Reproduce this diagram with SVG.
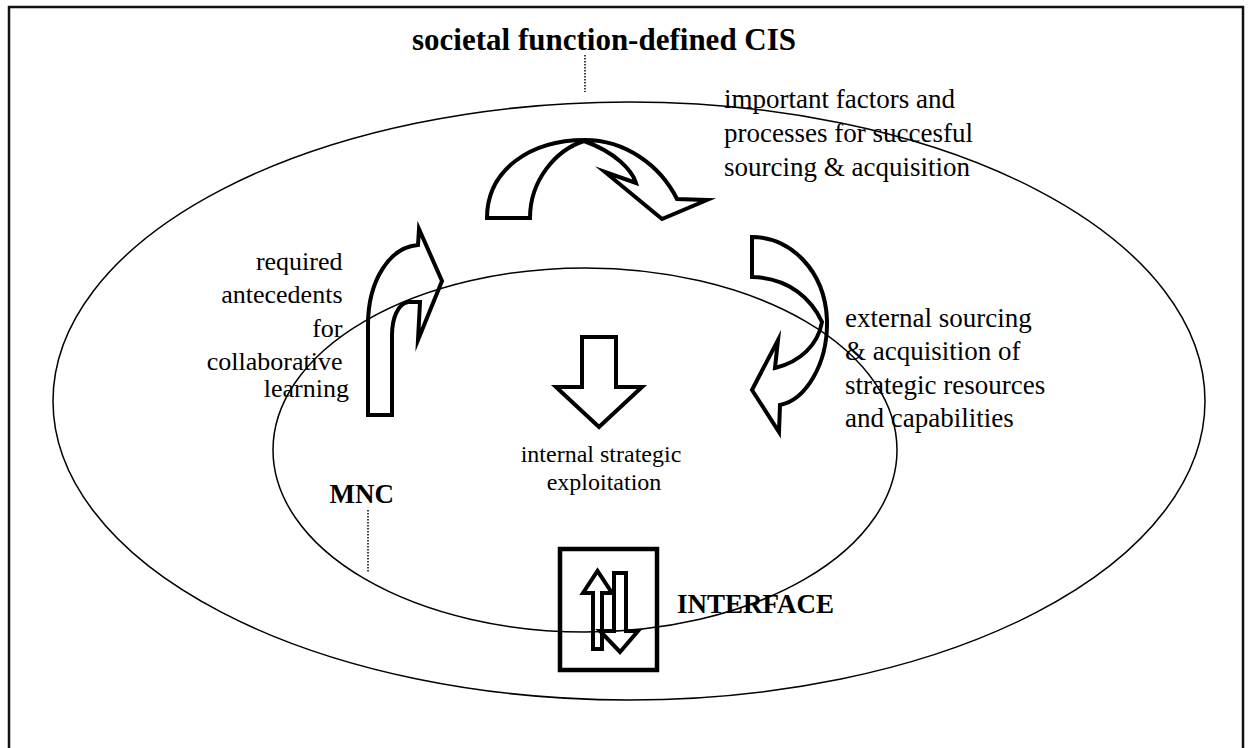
<svg xmlns="http://www.w3.org/2000/svg" width="1253" height="748" viewBox="0 0 1253 748">
  <style>
    .ring { fill: none; stroke: #000; stroke-width: 1.5; }
    .blk { fill: none; stroke: #000; stroke-width: 4; stroke-linejoin: miter; stroke-miterlimit: 10; }
    .lead { stroke: #000; stroke-width: 1.5; stroke-dasharray: 1.5 1.5; fill: none; }
    .frame { fill: none; stroke: #111; stroke-width: 2.5; }
    text { font-family: "Liberation Serif", "Times New Roman", serif; fill: #000; }
    .b { font-weight: bold; }
    .t26 { font-size: 26px; }
    .t27 { font-size: 27px; }
    .t24 { font-size: 24px; }
  </style>

  <rect width="1253" height="748" fill="#fff"/>
  <path class="frame" d="M9,760 V7 H1243 V760"/>

  <!-- systems -->
  <g id="cis">
    <ellipse class="ring" cx="629" cy="401" rx="576" ry="299"/>
    <text class="b" x="412" y="50" font-size="31">societal function-defined CIS</text>
  </g>
  <g id="mnc">
    <ellipse class="ring" cx="585" cy="450" rx="312" ry="182"/>
    <text class="b" x="394" y="503" font-size="27" text-anchor="end">MNC</text>
  </g>

  <!-- leaders -->
  <g id="connectors">
    <line class="lead" x1="585" y1="55" x2="585" y2="92"/>
    <line class="lead" x1="368" y1="510" x2="368" y2="573"/>
  </g>

  <!-- antecedents: bent arrow up and right -->
  <g id="antecedents">
    <path class="blk" d="M368,415 L368,325 C368,280 390,247 418,245 L419,229 L442,281 L418,340 L420,302 L408,302 C398,304 392,318 392,335 L392,415 Z"/>
    <text class="t26" text-anchor="end">
      <tspan x="349" y="270">required</tspan>
      <tspan x="349" y="303">antecedents</tspan>
      <tspan x="349" y="337">for</tspan>
      <tspan x="349" y="370">collaborative</tspan>
      <tspan x="349" y="397">learning</tspan>
    </text>
  </g>

  <!-- factors: curved arrow over the top -->
  <g id="factors">
    <path class="blk" d="M487,218 C487,170 530,140 585,140 C625,140 660,165 677,199 L707,200 L662,219 L605,172 L636,183 C632,170 615,152 584,141 C556,150 530,180 530,218 Z"/>
    <text class="t27">
      <tspan x="724" y="108">important factors and</tspan>
      <tspan x="724" y="142">processes for succesful</tspan>
      <tspan x="724" y="176">sourcing &amp; acquisition</tspan>
    </text>
  </g>

  <!-- external sourcing: curved arrow down and left -->
  <g id="sourcing">
    <path class="blk" d="M752,237 C790,237 825,270 827,320 C828,365 805,400 780,405 L779,432 L752,390 L778,340 L775,368 C800,362 818,345 822,322 C812,300 790,278 752,277 Z"/>
    <text class="t27">
      <tspan x="845" y="327">external sourcing</tspan>
      <tspan x="845" y="360">&amp; acquisition of</tspan>
      <tspan x="845" y="394">strategic resources</tspan>
      <tspan x="845" y="427">and capabilities</tspan>
    </text>
  </g>

  <!-- internal exploitation: straight down arrow -->
  <g id="exploitation">
    <path class="blk" d="M582,337 H616 V387 H642 L599,427 L556,387 H582 Z"/>
    <text class="t24" text-anchor="middle">
      <tspan x="604" y="462">internal strategic</tspan>
      <tspan x="604" y="490">exploitation</tspan>
    </text>
  </g>

  <!-- interface box with two-way arrows -->
  <g id="interface">
    <rect x="560" y="549" width="97" height="121" fill="none" stroke="#000" stroke-width="4.5"/>
    <path class="blk" d="M593,649 V593 H583 L597.5,571 L612,593 H602 V649 Z"/>
    <path class="blk" d="M614,573 H626 V631 H638 L620,652 L600,631 H614 Z"/>
    <text class="b" x="677" y="613" font-size="27">INTERFACE</text>
  </g>
</svg>
